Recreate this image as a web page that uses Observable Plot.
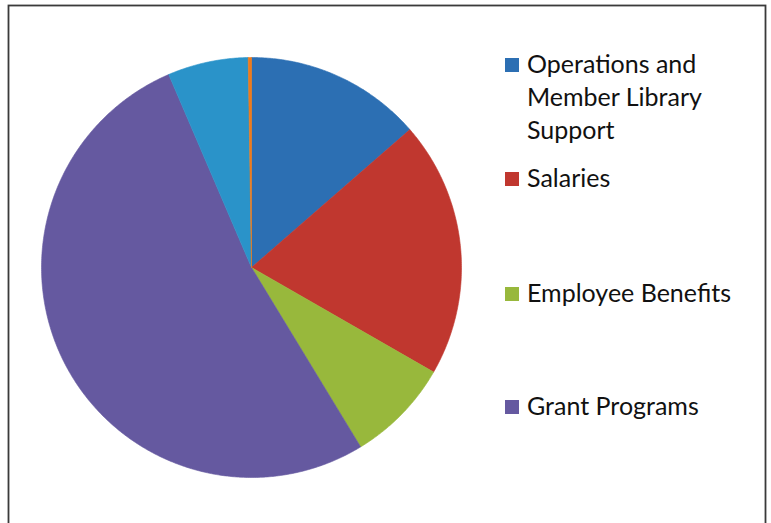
<!DOCTYPE html>
<html>
<head>
<meta charset="utf-8">
<script src="https://cdn.jsdelivr.net/npm/d3@7"></script>
<script src="https://cdn.jsdelivr.net/npm/@observablehq/plot@0.6"></script>
<style>
  html, body { margin: 0; padding: 0; background: #fff; }
  #chart { width: 771px; height: 523px; overflow: hidden; }
</style>
</head>
<body>
<div id="chart"></div>
<script>
// ---- data ----
const categories = ["Operations and Member Library Support", "Salaries", "Employee Benefits", "Grant Programs", "Other 1", "Other 2"];
const shares = [13.6, 19.7, 8.0, 52.25, 6.2, 0.25];
const colors = ["#2C6FB3", "#C0372F", "#98B83C", "#6559A0", "#2A93C9", "#F07A1A"];
const legendLabels = [["Operations and", "Member Library", "Support"], ["Salaries"], ["Employee Benefits"], ["Grant Programs"]];

// build slice outlines from the pie layout (clockwise from 12 o'clock)
const pie = d3.pie().sort(null).value(d => d.share)(categories.map((c, i) => ({category: c, share: shares[i]})));
const pts = [];
for (const s of pie) {
  const c = s.data.category;
  pts.push({category: c, x: 0, y: 0});
  const n = Math.max(2, Math.ceil((s.endAngle - s.startAngle) / (Math.PI / 360)));
  for (let k = 0; k <= n; k++) {
    const a = s.startAngle + (s.endAngle - s.startAngle) * k / n;
    pts.push({category: c, x: Math.sin(a), y: Math.cos(a)});
  }
  pts.push({category: c, x: 0, y: 0});
}

const chart = Plot.plot({
  width: 771,
  height: 523,
  margin: 0,
  x: {domain: [-1, 1], range: [41, 461], axis: null},
  y: {domain: [-1, 1], range: [477, 57], axis: null},
  color: {domain: categories, range: colors},
  marks: [
    Plot.line(pts, {x: "x", y: "y", z: "category", fill: "category", stroke: "category", strokeWidth: 0.6, curve: "linear"}),
    Plot.frame({stroke: "#3a3a3a", strokeWidth: 1.8, insetLeft: 8, insetTop: 5, insetRight: 6, insetBottom: -10})
  ]
});
document.getElementById("chart").appendChild(chart);

// legend (first four categories, as in the original)
const svg = d3.select(chart);
const lg = svg.append("g")
  .attr("font-family", "Lato, 'Open Sans', sans-serif")
  .attr("font-size", 25)
  .attr("text-anchor", "start")
  .attr("fill", "#111");
const baselines = [73, 187, 302, 415];
legendLabels.forEach((lines, i) => {
  const b = baselines[i];
  lg.append("rect").attr("x", 505).attr("y", b - 15).attr("width", 14).attr("height", 14).attr("fill", colors[i]);
  const t = lg.append("text").attr("x", 527).attr("y", b).attr("text-anchor", "start");
  lines.forEach((ln, j) => t.append("tspan").attr("x", 527).attr("dy", j === 0 ? 0 : 33).text(ln));
});
</script>
</body>
</html>
